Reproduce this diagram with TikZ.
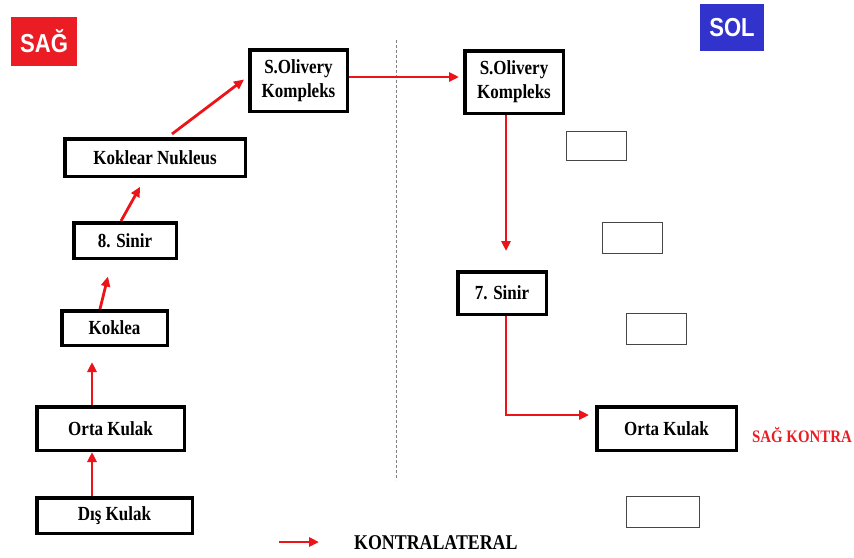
\documentclass[tikz,border=0pt]{standalone}
\usepackage{fontspec}
\setmainfont{Liberation Serif}
\newfontfamily\boxfont[FakeStretch=0.85]{Liberation Serif}
\newfontfamily\tagfont[FakeStretch=0.85]{Liberation Sans}
\usetikzlibrary{arrows.meta,calc}
\definecolor{arrred}{RGB}{236,20,24}
\definecolor{tagred}{RGB}{236,28,36}
\definecolor{tagblue}{RGB}{50,50,204}
\definecolor{thingray}{RGB}{70,70,70}
\tikzset{
  stage/.style={draw=black, line width=3.5pt, fill=white, inner sep=0pt, align=center,
    font=\boxfont\bfseries\fontsize{20}{24}\selectfont},
  blank/.style={draw=thingray, line width=1.3pt, inner sep=0pt},
  sidetag/.style={inner sep=0pt, text=white, font=\tagfont\bfseries\fontsize{26}{28}\selectfont},
  flow/.style={draw=arrred, line width=2.8pt, -{Triangle[length=10pt,width=9pt]}},
}
\begin{document}
\begin{tikzpicture}[x=1pt,y=-1pt]
\useasboundingbox (0,0) rectangle (854,557);
% side tags
\node[sidetag, fill=tagred, minimum width=66pt, minimum height=49pt] (sag) at (44,41.5) {SAĞ};
\node[sidetag, fill=tagblue, minimum width=64pt, minimum height=47pt] (sol) at (732,27.5) {SOL};
% dividing line
\draw[gray, line width=0.8pt, dash pattern=on 3pt off 2pt] (396,40) -- (396,480);
% left side
\node[stage, minimum width=97.5pt, minimum height=61.5pt] (solL) at (298.5,80.5) {S.Olivery\\Kompleks};
\node[stage, minimum width=180.5pt, minimum height=37.5pt] (kokn) at (155,157.5) {Koklear Nukleus};
\node[stage, minimum width=102.5pt, minimum height=35.5pt] (s8) at (125,240.5) {8. Sinir};
\node[stage, minimum width=105.5pt, minimum height=34.5pt] (kok) at (114.5,328) {Koklea};
\node[stage, minimum width=147.5pt, minimum height=43.5pt] (ortaL) at (110.5,428.5) {Orta Kulak};
\node[stage, minimum width=155.5pt, minimum height=35.5pt] (dis) at (114.5,515.5) {Dış Kulak};
% right side
\node[stage, minimum width=98.5pt, minimum height=62.5pt] (solR) at (514,82) {S.Olivery\\Kompleks};
\node[stage, minimum width=88.5pt, minimum height=42.5pt] (s7) at (502,293) {7. Sinir};
\node[stage, minimum width=139.5pt, minimum height=43.5pt] (ortaR) at (666.5,428.5) {Orta Kulak};
% empty boxes
\node[blank, minimum width=60pt, minimum height=29pt] (e1) at (596.5,146) {};
\node[blank, minimum width=60pt, minimum height=31pt] (e2) at (632.5,238) {};
\node[blank, minimum width=60pt, minimum height=31pt] (e3) at (656.5,329) {};
\node[blank, minimum width=73pt, minimum height=31pt] (e4) at (663,512) {};
% labels
\node[anchor=west, inner sep=0pt, text=tagred, font=\boxfont\bfseries\fontsize{17.5}{20}\selectfont] (kontra) at (752,435) {SAĞ KONTRA};
\coordinate (legA) at (279,542);
\coordinate (legB) at (319,542);
\node[anchor=west, inner sep=0pt, font=\boxfont\bfseries\fontsize{21}{24}\selectfont] (legtext) at (354,543) {KONTRALATERAL};
% connectors
\draw[flow] ([xshift=-22.5pt]dis.north) -- ([xshift=-22.5pt]dis.north |- ortaL.south);
\draw[flow, shorten >=15pt] ([xshift=-18.5pt]ortaL.north) -- ([xshift=-18.5pt]ortaL.north |- kok.south);
\draw[flow, shorten >=17pt] ([xshift=-14.5pt]kok.north) -- ([xshift=-13pt]s8.south);
\draw[flow, shorten >=10pt] ([xshift=-4pt]s8.north) -- ([xshift=-10pt]kokn.south);
\draw[flow, shorten <=5pt, shorten >=5pt] ([xshift=13pt]kokn.north) -- ([yshift=4pt]solL.west);
\draw[flow, shorten >=4pt] ([yshift=3.5pt]solL.east) -- ([yshift=3.5pt]solL.east -| solR.west);
\draw[flow, shorten >=19pt] ([xshift=-8pt]solR.south) -- ([xshift=-8pt]solR.south |- s7.north);
\draw[flow, shorten >=6pt] ([xshift=4pt]s7.south) |- ([yshift=13.5pt]ortaR.west);
\draw[flow] (legA) -- (legB);
\end{tikzpicture}
\end{document}
